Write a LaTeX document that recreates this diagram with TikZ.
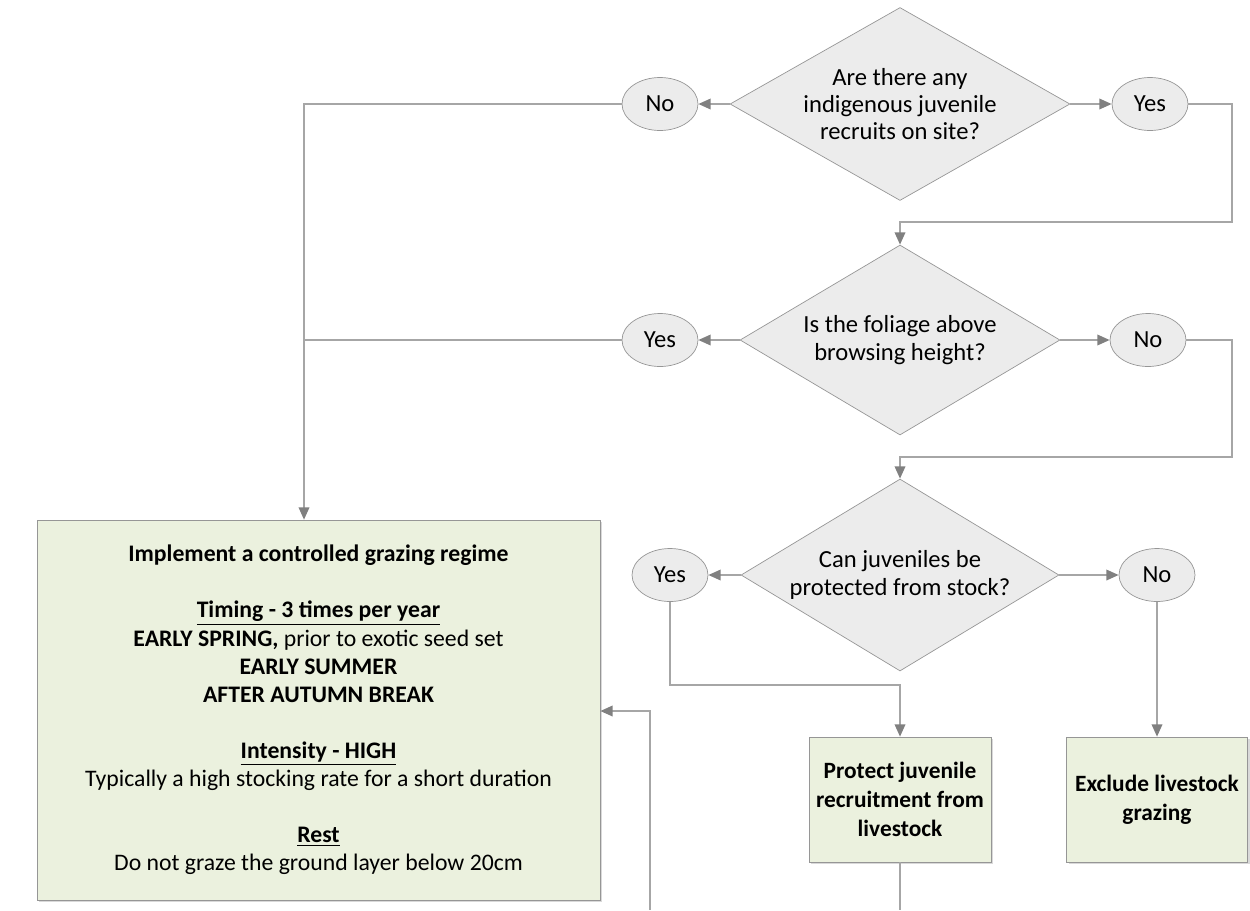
\documentclass[tikz,border=0pt]{standalone}
\usepackage{fontspec}
\setmainfont{Carlito}
\usetikzlibrary{shapes.geometric,arrows.meta,shadows}

\definecolor{linegray}{RGB}{166,166,166}
\definecolor{tipgray}{RGB}{128,128,128}
\definecolor{edgegray}{RGB}{150,150,150}
\definecolor{qfill}{RGB}{236,236,236}
\definecolor{boxgreen}{RGB}{235,241,222}

\begin{document}
\begin{tikzpicture}[x=0.02cm,y=-0.02cm,
  question/.style={diamond,draw=edgegray,fill=qfill,aspect=1.76,inner sep=-6pt,align=center,font=\fontsize{14}{15.6}\selectfont},
  answer/.style={ellipse,draw=edgegray,fill=qfill,inner sep=0pt,minimum width=1.52cm,minimum height=1.06cm,font=\fontsize{14}{15.6}\selectfont},
  action/.style={rectangle,draw=edgegray,fill=boxgreen,align=center,drop shadow={shadow xshift=1.2pt,shadow yshift=-1.2pt,opacity=0.3}},
  link/.style={draw=linegray,line width=1pt},
  arr/.style={link,-{Triangle[length=7pt,width=6pt,color=tipgray]}}]
\useasboundingbox (0,0) rectangle (1250,910);

\node [question,minimum width=6.8cm,minimum height=3.86cm] (q1) at (900,104) {Are there any\\indigenous juvenile\\recruits on site?};
\node [answer] (no1) at (660,104) {No};
\node [answer] (yes1) at (1150,104) {Yes};

\node [question,minimum width=6.4cm,minimum height=3.8cm] (q2) at (900,340) {Is the foliage above\\browsing height?};
\node [answer] (yes2) at (660,340) {Yes};
\node [answer] (no2) at (1148,340) {No};

\node [question,minimum width=6.36cm,minimum height=3.84cm] (q3) at (900,575) {Can juveniles be\\protected from stock?};
\node [answer] (yes3) at (670,575) {Yes};
\node [answer] (no3) at (1157,575) {No};

\node [action,minimum width=11.26cm,minimum height=7.6cm,font=\fontsize{13.5}{16}\selectfont] (plan) at (318.5,710) {%
  \textbf{Implement a controlled grazing regime}\\[16pt]
  \textbf{\underline{Timing - 3 times per year}}\\
  \textbf{EARLY SPRING,} prior to exotic seed set\\
  \textbf{EARLY SUMMER}\\
  \textbf{AFTER AUTUMN BREAK}\\[16pt]
  \textbf{\underline{Intensity - HIGH}}\\
  Typically a high stocking rate for a short duration\\[16pt]
  \textbf{\underline{Rest}}\\
  Do not graze the ground layer below 20cm};
\node [action,minimum width=3.64cm,minimum height=2.5cm,font=\bfseries\fontsize{13.3}{16.5}\selectfont] (protect) at (900,799.5) {Protect juvenile\\recruitment from\\livestock};
\node [action,minimum width=3.62cm,minimum height=2.5cm,font=\bfseries\fontsize{13.3}{16.5}\selectfont] (exclude) at (1157,799.5) {Exclude livestock\\grazing};

\coordinate (split) at (304,104);
\coordinate (down) at (900,910);
\coordinate (loop) at (650,910);
\coordinate (back) at (650,711);

\draw [arr] (q1.west) -- (no1.east);
\draw [arr] (q1.east) -- (yes1.west);
\draw [arr] (no1.west) -- (split) -- (split |- plan.north);
\draw [arr] (yes1.east) -| (1232,222) -| (q2.north);

\draw [arr] (q2.west) -- (yes2.east);
\draw [arr] (q2.east) -- (no2.west);
\draw [link] (yes2.west) -- (split |- yes2.west);
\draw [arr] (no2.east) -| (1232,457) -| (q3.north);

\draw [arr] (q3.west) -- (yes3.east);
\draw [arr] (q3.east) -- (no3.west);
\draw [arr] (yes3.south) |- (900,685) -- (protect.north);
\draw [arr] (no3.south) -- (exclude.north);

\draw [link] (protect.south) -- (down);
\draw [arr] (loop) -- (back) -- (back -| plan.east);
\end{tikzpicture}
\end{document}
